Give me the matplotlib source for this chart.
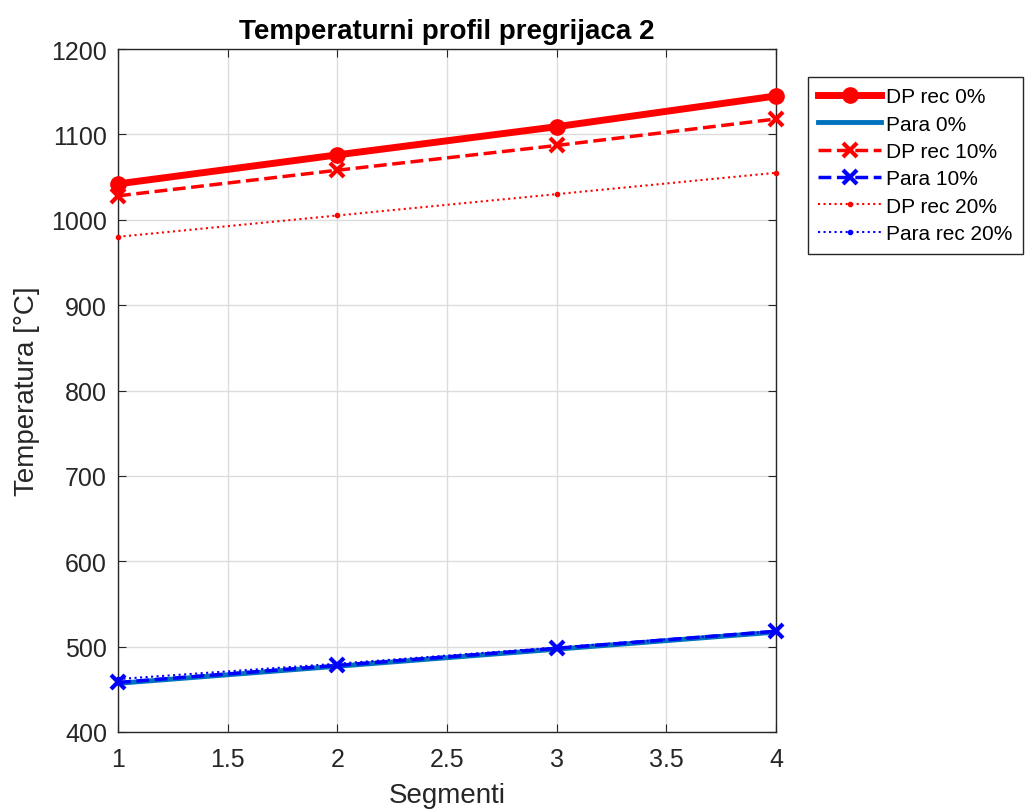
import matplotlib
matplotlib.use("Agg")
import matplotlib.pyplot as plt

segments = [1, 2, 3, 4]
dp_rec_0 = [1042, 1076, 1109, 1145]
para_0 = [457, 477, 497, 517]
dp_rec_10 = [1028, 1058, 1087, 1118]
para_10 = [458, 478, 498, 518]
dp_rec_20 = [980, 1005, 1030, 1055]
para_rec_20 = [462, 480, 499, 518]

xticks = [1, 1.5, 2, 2.5, 3, 3.5, 4]
xticklabels = ['1', '1.5', '2', '2.5', '3', '3.5', '4']
yticks = [400, 500, 600, 700, 800, 900, 1000, 1100, 1200]

plt.rcParams['font.family'] = ['Arial', 'Liberation Sans', 'DejaVu Sans']

fig = plt.figure(figsize=(10.27, 8.12), dpi=100)
ax = fig.add_axes([118/1027, 1 - 733/812, (776-118)/1027, (733-50)/812])

kw = dict(clip_on=False, zorder=3)
ax.plot(segments, dp_rec_0, '-o', color='#ff0000', lw=5, ms=11, label='DP rec 0%', **kw)
ax.plot(segments, para_0, '-', color='#0072bd', lw=3.5, label='Para 0%', **kw)
ax.plot(segments, dp_rec_10, '--x', color='#ff0000', lw=2.5, ms=10, mew=3, label='DP rec 10%', **kw)
ax.plot(segments, para_10, '--x', color='#0000ff', lw=2.5, ms=10, mew=3, label='Para 10%', **kw)
ax.plot(segments, dp_rec_20, ':.', color='#ff0000', lw=1.5, ms=6, label='DP rec 20%', **kw)
ax.plot(segments, para_rec_20, ':.', color='#0000ff', lw=1.5, ms=6, label='Para rec 20%', **kw)

ax.set_xlim(1, 4)
ax.set_ylim(400, 1200)
ax.set_xticks(xticks)
ax.set_xticklabels(xticklabels)
ax.set_yticks(yticks)
ax.grid(True, color='#dcdcdc', lw=1)
ax.set_axisbelow(True)
ax.tick_params(labelsize=18, direction='in', length=6, color='#262626', labelcolor='#262626',
               top=True, right=True)
ax.tick_params(axis='x', pad=11)
ax.tick_params(axis='y', pad=8)
for s in ax.spines.values():
    s.set_color('#262626')
    s.set_linewidth(1)
ax.set_xlabel('Segmenti', fontsize=20, color='#262626', labelpad=8)
ax.set_ylabel('Temperatura [°C]', fontsize=20, color='#262626', labelpad=8)
ax.set_title('Temperaturni profil pregrijaca 2', fontsize=20, fontweight='bold', color='black', pad=8)

leg = ax.legend(loc='upper left', bbox_to_anchor=(808/1027, 1 - 78/812), bbox_transform=fig.transFigure,
                fontsize=15, frameon=True, fancybox=False, edgecolor='#262626', framealpha=1,
                handlelength=3.0, handletextpad=0.25, borderpad=0.5, labelspacing=0.4, borderaxespad=0)
leg.get_frame().set_linewidth(1)

fig.savefig('out.png', dpi=100)
